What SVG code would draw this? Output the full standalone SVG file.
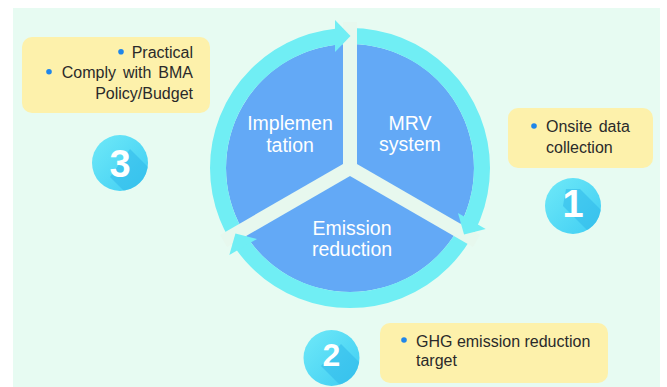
<svg xmlns="http://www.w3.org/2000/svg" width="667" height="387" viewBox="0 0 667 387">
<defs>
<style>
.bg{fill:#e7fbf2}
.disc{fill:#63a9f6}
.ring{fill:none;stroke:#70eef4;stroke-width:16}
.sep{stroke:#e7f8ee;stroke-width:14;stroke-linecap:butt}
.head{fill:#70eef4}
.lbl{fill:#ffffff;font-family:"Liberation Sans",Arial,sans-serif;font-size:19.5px;text-anchor:middle}
.box{fill:#fdf1ab}
.txt{fill:#2a2a2a;font-family:"Liberation Sans",Arial,sans-serif;font-size:16px}
.dot{fill:#1f86ea}
.badge{fill:url(#bg1)}
.shadow{fill:#2fb8ea;opacity:0.55}
.num{fill:#ffffff;font-family:"Liberation Sans",Arial,sans-serif;font-weight:bold;text-anchor:middle}
</style>
<linearGradient id="bg1" x1="0" y1="0" x2="1" y2="1">
<stop offset="0" stop-color="#6fe9f8"/>
<stop offset="1" stop-color="#3fcdf3"/>
</linearGradient>
<clipPath id="c1"><circle cx="573" cy="206" r="28"/></clipPath>
<clipPath id="c2"><circle cx="331.5" cy="358" r="28"/></clipPath>
<clipPath id="c3"><circle cx="120" cy="163" r="28"/></clipPath>
</defs>
<rect x="0" y="0" width="667" height="387" fill="#ffffff"/>
<rect class="bg" x="13" y="8" width="647" height="380"/>

<g id="mrv">
<path class="disc" d="M350,168 L350,44 A124,124 0 0 1 457.39,230 Z"/>
<text class="lbl" x="410" y="130">MRV</text>
<text class="lbl" x="410" y="151">system</text>
</g>
<g id="emission">
<path class="disc" d="M350,168 L457.39,230 A124,124 0 0 1 242.61,230 Z"/>
<text class="lbl" x="352" y="235">Emission</text>
<text class="lbl" x="352" y="256">reduction</text>
</g>
<g id="implementation">
<path class="disc" d="M350,168 L242.61,230 A124,124 0 0 1 350,44 Z"/>
<text class="lbl" x="290" y="130">Implemen</text>
<text class="lbl" x="290" y="152">tation</text>
</g>

<g id="connectors">
<circle class="ring" cx="350" cy="168" r="132"/>
<line class="sep" x1="350" y1="168" x2="350" y2="22"/>
<line class="sep" x1="350" y1="168" x2="350" y2="22" transform="rotate(120 350 168)"/>
<line class="sep" x1="350" y1="168" x2="350" y2="22" transform="rotate(240 350 168)"/>
<polygon class="head" points="335,20 350.5,36 335,52"/>
<polygon class="head" points="335,20 350.5,36 335,52" transform="rotate(120 350 168)"/>
<polygon class="head" points="335,20 350.5,36 335,52" transform="rotate(240 350 168)"/>
</g>

<g id="note3">
<rect class="box" x="22" y="37" width="188" height="76" rx="10"/>
<circle class="dot" cx="121" cy="51.7" r="2.8"/>
<circle class="dot" cx="49" cy="71.7" r="2.8"/>
<text class="txt" x="193" y="58.3" text-anchor="end">Practical</text>
<text class="txt" x="193" y="78.3" text-anchor="end" word-spacing="2.5">Comply with BMA</text>
<text class="txt" x="193" y="99.3" text-anchor="end">Policy/Budget</text>
</g>
<g id="note1">
<rect class="box" x="508" y="108" width="145" height="60" rx="10"/>
<circle class="dot" cx="534" cy="126" r="2.8"/>
<text class="txt" x="546" y="132.3" word-spacing="2">Onsite data</text>
<text class="txt" x="546" y="152.7">collection</text>
</g>
<g id="note2">
<rect class="box" x="380" y="323" width="228" height="60" rx="10"/>
<circle class="dot" cx="404" cy="340" r="2.8"/>
<text class="txt" x="416" y="347.3">GHG emission reduction</text>
<text class="txt" x="416" y="366">target</text>
</g>

<g id="badge3">
<circle class="badge" cx="120" cy="163" r="28"/>
<polygon class="shadow" clip-path="url(#c3)" points="130,149 170,189 150,217 110,177"/>
<text class="num" x="120" y="177" font-size="38">3</text>
</g>
<g id="badge1">
<circle class="badge" cx="573" cy="206" r="28"/>
<polygon class="shadow" clip-path="url(#c1)" points="580,189 620,229 603,246 563,206 566,189"/>
<text class="num" x="573" y="217" font-size="38">1</text>
</g>
<g id="badge2">
<circle class="badge" cx="331.5" cy="358" r="28"/>
<polygon class="shadow" clip-path="url(#c2)" points="341,344 381,384 361,406 321,366"/>
<text class="num" x="331.5" y="366" font-size="32">2</text>
</g>
</svg>
